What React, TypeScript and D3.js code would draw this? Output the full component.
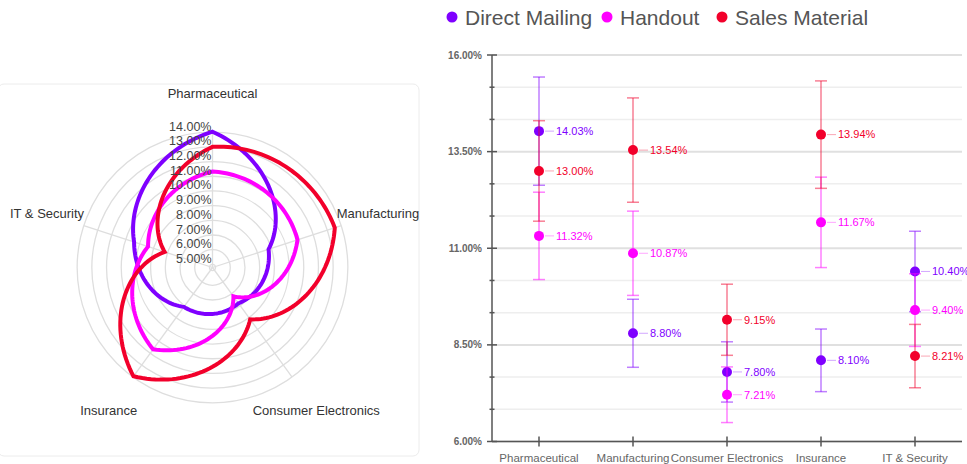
import React from 'react';
import * as d3 from 'd3';

const categories = ['Pharmaceutical', 'Manufacturing', 'Consumer Electronics', 'Insurance', 'IT & Security'];
const seriesNames = ['Direct Mailing', 'Handout', 'Sales Material'];
const seriesColors = ['#7f00ff', '#ff00ff', '#f2002b'];

const directMailing = [14.03, 8.8, 7.8, 8.1, 10.4];
const handout = [11.32, 10.87, 7.21, 11.67, 9.4];
const salesMaterial = [13.0, 13.54, 9.15, 13.94, 8.21];

const directMailingErr = [1.4, 0.88, 0.78, 0.81, 1.04];
const handoutErr = [1.13, 1.09, 0.72, 1.17, 0.94];
const salesMaterialErr = [1.3, 1.35, 0.92, 1.39, 0.82];

const radarTicks = [5, 6, 7, 8, 9, 10, 11, 12, 13, 14];
const yMajorTicks = [6, 8.5, 11, 13.5, 16];

const FONT = '"Liberation Sans", Arial, sans-serif';

export default function App() {
  const values = [directMailing, handout, salesMaterial];
  const errors = [directMailingErr, handoutErr, salesMaterialErr];

  // ---- radar (left) ----
  const cx = 212.5;
  const cy = 267.5;
  const rScale = d3.scaleLinear().domain([4.79, 14.03]).range([0, 135.8]);
  const step = (2 * Math.PI) / categories.length;
  const outerR = rScale(14);

  // segments are interpolated in polar space, which gives the bulging arcs
  const polarPath = (vals: number[]) => {
    const pts: [number, number][] = [];
    const n = vals.length;
    const steps = 40;
    for (let i = 0; i < n; i++) {
      const r0 = rScale(vals[i]);
      const r1 = rScale(vals[(i + 1) % n]);
      for (let s = 0; s < steps; s++) {
        const t = s / steps;
        pts.push([i * step + t * step, r0 + t * (r1 - r0)]);
      }
    }
    return d3.lineRadial<[number, number]>()
      .angle(d => d[0])
      .radius(d => d[1])
      .curve(d3.curveLinearClosed)(pts);
  };

  // ---- error bar chart (right) ----
  const x = d3.scaleBand().domain(categories).range([492, 962]);
  const y = d3.scaleLinear().domain([6, 16]).range([441.5, 55]);
  const allTicks = d3.range(0, 13).map(i => 6 + (i * 2.5) / 3);
  const isMajor = (t: number) => yMajorTicks.some(m => Math.abs(m - t) < 1e-6);
  const legendX = [452, 607, 722];

  return (
    <svg width={967} height={464} style={{ position: 'absolute', left: 0, top: 0, fontFamily: FONT }}>
      <rect x={-2} y={84} width={421} height={372} rx={6} fill="none" stroke="#ececec" />

      <g transform={`translate(${cx},${cy})`}>
        {radarTicks.map(t => (
          <circle key={t} r={rScale(t)} fill="none" stroke="#dedede" strokeWidth={1.3} />
        ))}
        {categories.map((c, i) => {
          const a = i * step;
          return (
            <line key={c} x1={0} y1={0} x2={outerR * Math.sin(a)} y2={-outerR * Math.cos(a)}
              stroke="#dedede" strokeWidth={1.3} />
          );
        })}
        {values.map((vals, k) => (
          <path key={k} d={polarPath(vals) || ''} fill="none" stroke={seriesColors[k]}
            strokeWidth={4} strokeLinejoin="miter" />
        ))}
        {radarTicks.map(t => (
          <text key={t} x={-1} y={-rScale(t) - 1.5} textAnchor="end" fontSize={12.5} fill="#444">
            {`${t.toFixed(2)}%`}
          </text>
        ))}
        {categories.map((c, i) => {
          const a = i * step;
          const L = i === 0 ? 174 : (i === 2 || i === 3 ? 176.5 : 174);
          return (
            <text key={c} x={L * Math.sin(a)} y={-L * Math.cos(a)} textAnchor="middle"
              dy="0.35em" fontSize={13} fill="#333">{c}</text>
          );
        })}
      </g>

      {/* legend */}
      {seriesNames.map((s, k) => (
        <g key={s} transform={`translate(${legendX[k]},17)`}>
          <circle r={5.5} fill={seriesColors[k]} />
          <text x={13} dy="0.36em" fontSize={21} fill="#555">{s}</text>
        </g>
      ))}

      {/* grid */}
      {allTicks.map((t, i) => (
        <line key={i} x1={492} x2={962} y1={y(t)} y2={y(t)}
          stroke={isMajor(t) ? '#e0e0e0' : '#eeeeee'} strokeWidth={isMajor(t) ? 2 : 1.5} />
      ))}

      {/* axes */}
      <line x1={492} x2={492} y1={55} y2={441.5} stroke="#555" strokeWidth={1.5} />
      <line x1={492} x2={962} y1={441.5} y2={441.5} stroke="#555" strokeWidth={1.5} />
      {allTicks.map((t, i) => (
        <line key={i} x1={isMajor(t) ? 487 : 489.5} x2={isMajor(t) ? 497 : 494.5} y1={y(t)} y2={y(t)}
          stroke="#555" strokeWidth={1.5} />
      ))}
      {yMajorTicks.map(t => (
        <text key={t} x={482} y={y(t)} dy="0.35em" textAnchor="end" fontSize={10}
          fontWeight="bold" fill="#666">{`${t.toFixed(2)}%`}</text>
      ))}
      {categories.map(c => {
        const xc = (x(c) as number) + x.bandwidth() / 2;
        return (
          <g key={c}>
            <line x1={xc} x2={xc} y1={436.5} y2={446.5} stroke="#555" strokeWidth={1.5} />
            <text x={xc} y={462} textAnchor="middle" fontSize={11.5} fill="#666">{c}</text>
          </g>
        );
      })}

      {/* error bars and points */}
      {values.map((vals, k) =>
        vals.map((v, i) => {
          const xc = (x(categories[i]) as number) + x.bandwidth() / 2;
          const e = errors[k][i];
          const col = seriesColors[k];
          return (
            <g key={`${k}-${i}`}>
              <g stroke={col} strokeOpacity={0.5} strokeWidth={1.5}>
                <line x1={xc} x2={xc} y1={y(v + e)} y2={y(v - e)} />
                <line x1={xc - 6} x2={xc + 6} y1={y(v + e)} y2={y(v + e)} />
                <line x1={xc - 6} x2={xc + 6} y1={y(v - e)} y2={y(v - e)} />
              </g>
              <line x1={xc + 6} x2={xc + 15} y1={y(v)} y2={y(v)} stroke={col} strokeOpacity={0.35} />
              <circle cx={xc} cy={y(v)} r={5} fill={col} />
              <text x={xc + 17} y={y(v)} dy="0.35em" fontSize={11} fill={col}>{`${v.toFixed(2)}%`}</text>
            </g>
          );
        })
      )}
    </svg>
  );
}
